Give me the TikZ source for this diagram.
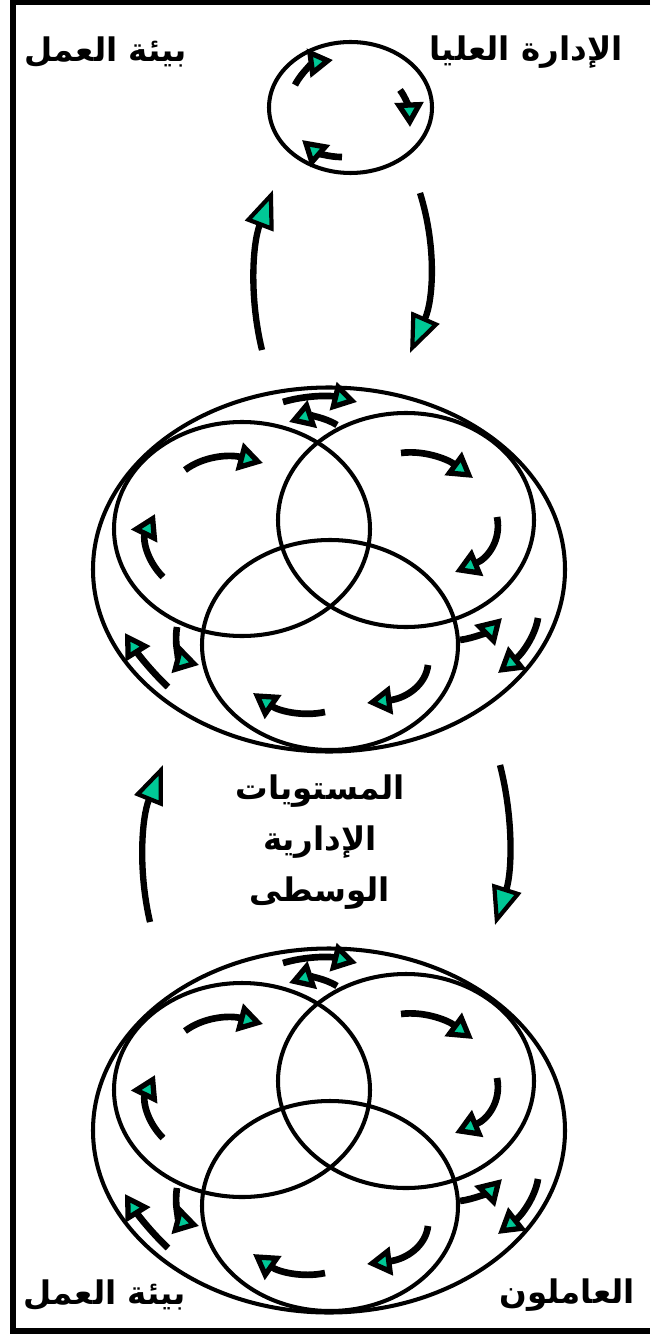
\documentclass[tikz,border=0pt]{standalone}
\usepackage{fontspec}
\newfontfamily\arabicfont[Script=Arabic]{DejaVu Sans}
\TeXXeTstate=1
\usetikzlibrary{arrows.meta,calc}
\definecolor{tipteal}{RGB}{0,200,150}
\tikzset{
  ring/.style={line width=2.3pt},
  turn/.style={line width=3.8pt,-{Triangle[length=14pt,width=16pt,line width=3pt,fill=tipteal]}},
  flow/.style={line width=3.6pt,-{Triangle[length=22pt,width=17pt,line width=2.4pt,fill=tipteal]}},
  lvltext/.style={font=\arabicfont\bfseries\fontsize{18.5}{29}\selectfont,inner sep=0pt},
}
\begin{document}
\begin{tikzpicture}[x=0.02cm,y=-0.02cm]
  \useasboundingbox (0,0) rectangle (650,1334);
  \draw[line width=3.4pt] (650,2) -- (13,2) -- (13,1331) -- (650,1331);

  % top management
  \draw[ring] (350.5,107.5) ellipse [x radius=81.5, y radius=65.5];
  \foreach \ax/\ay/\mx/\my/\bx/\by in {
      295/85/310/68/333/60,
      400/90/407/105/410/127,
      342/157/322/153/302/140}
    \draw[turn] (\ax,\ay) .. controls ($1.3333*(\mx,\my)-0.3333*(\bx,\by)$)
      and ($1.3333*(\mx,\my)-0.3333*(\ax,\ay)$) .. (\bx,\by);

  % middle level and workers (same figure twice)
  \foreach \dy in {0,561}
  {
    \begin{scope}[shift={(0,\dy)}]
      \draw[ring] (329,569.5) ellipse [x radius=236, y radius=182];
      \draw[ring] (242,529) ellipse [x radius=128, y radius=107];
      \draw[ring] (406,520) ellipse [x radius=128, y radius=107];
      \draw[ring] (330,645) ellipse [x radius=128, y radius=105];
      \foreach \ax/\ay/\mx/\my/\bx/\by in {
          283/402/318/397/357/402,
          337/425/315/418/289/422,
          185/470/218/458/263/463,
          163/577/148/548/155/514,
          401/453/435/457/473/478,
          497/517/490/548/455/572,
          177/627/180/652/199/665,
          168/687/146/663/125/633,
          460/640/482/633/502/618,
          538/618/526/645/498/673,
          428/665/411/690/367/703,
          325/712/290/711/253/693}
        \draw[turn] (\ax,\ay) .. controls ($1.3333*(\mx,\my)-0.3333*(\bx,\by)$)
          and ($1.3333*(\mx,\my)-0.3333*(\ax,\ay)$) .. (\bx,\by);
    \end{scope}
  }

  % flows between the levels
  \coordinate (topout) at (262,350);
  \coordinate (topin)  at (273,190);
  \coordinate (downout) at (420,193);
  \coordinate (downin)  at (410,353);
  \coordinate (midout) at (150,922);
  \coordinate (midin)  at (163,765);
  \coordinate (lowout) at (500,765);
  \coordinate (lowin)  at (495,925);
  \draw[flow] (topout) .. controls ($1.3333*(255,270)-0.3333*(topin)$)
    and ($1.3333*(255,270)-0.3333*(topout)$) .. (topin);
  \draw[flow] (downout) .. controls ($1.3333*(430,273)-0.3333*(downin)$)
    and ($1.3333*(430,273)-0.3333*(downout)$) .. (downin);
  \draw[flow] (midout) .. controls ($1.3333*(144,843)-0.3333*(midin)$)
    and ($1.3333*(144,843)-0.3333*(midout)$) .. (midin);
  \draw[flow] (lowout) .. controls ($1.3333*(509,845)-0.3333*(lowin)$)
    and ($1.3333*(509,845)-0.3333*(lowout)$) .. (lowin);

  \node[lvltext] (envtop) at (106,52) {\beginR بيئة العمل\endR};
  \node[lvltext] (uppermgmt) at (526,52) {\beginR الإدارة العليا\endR};
  \node[lvltext,align=center] (middlemgmt) at (320,842)
    {\beginR المستويات\endR\\\beginR الإدارية\endR\\\beginR الوسطى\endR};
  \node[lvltext] (envbottom) at (105,1295) {\beginR بيئة العمل\endR};
  \node[lvltext] (workers) at (567,1295) {\beginR العاملون\endR};
\end{tikzpicture}
\end{document}
